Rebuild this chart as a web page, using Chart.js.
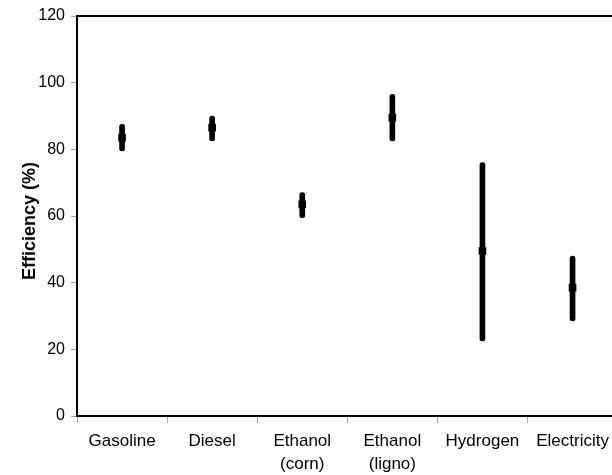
<!DOCTYPE html>
<html>
<head>
<meta charset="utf-8">
<script src="https://cdn.jsdelivr.net/npm/chart.js@4/dist/chart.umd.min.js"></script>
<style>
  html, body { margin: 0; padding: 0; background: #fff; overflow: hidden; }
  #wrap { width: 612px; height: 475px; overflow: hidden; position: relative; }
  canvas { display: block; }
</style>
</head>
<body>
<div id="wrap"><canvas id="c" width="623" height="475" style="width:623px;height:475px"></canvas></div>
<script>
const categories = [["Gasoline"], ["Diesel"], ["Ethanol", "(corn)"], ["Ethanol", "(ligno)"], ["Hydrogen"], ["Electricity"]];
const minValues  = [79.5, 82.5, 59.5, 82.5, 22.5, 28.5];
const maxValues  = [87.5, 90.0, 67.0, 96.5, 76.0, 48.0];
const meanValues = [83.5, 86.5, 63.5, 89.5, 49.5, 38.5];
const yTicks = [0, 20, 40, 60, 80, 100, 120];

const ranges = minValues.map((v, i) => [v, maxValues[i]]);
const FONT = "'Liberation Sans', Arial, sans-serif";

new Chart(document.getElementById('c'), {
  data: {
    labels: categories,
    datasets: [
      {
        type: 'bar',
        data: ranges,
        backgroundColor: '#000',
        borderWidth: 0,
        barThickness: 5,
        borderRadius: 2.5,
        borderSkipped: false,
        xAxisID: 'x',
        yAxisID: 'y',
        order: 2
      },
      {
        type: 'line',
        data: meanValues,
        showLine: false,
        pointStyle: 'rect',
        pointRadius: 5.4,
        pointBackgroundColor: '#000',
        pointBorderColor: '#000',
        pointBorderWidth: 0,
        xAxisID: 'x',
        yAxisID: 'y',
        order: 1
      }
    ]
  },
  options: {
    responsive: false,
    animation: false,
    events: [],
    layout: { padding: 0 },
    plugins: { legend: { display: false }, tooltip: { enabled: false } },
    scales: {
      x: {
        type: 'category',
        position: 'bottom',
        offset: true,
        grid: { offset: true, drawOnChartArea: false, drawTicks: true, tickLength: 7, color: '#a0a0a0', lineWidth: 1 },
        border: { display: true, color: '#000', width: 2 },
        ticks: { color: '#000', font: { family: FONT, size: 17, lineHeight: 1.33 }, padding: 7, maxRotation: 0, autoSkip: false },
        afterFit: s => { s.height = 59; }
      },
      x2: {
        type: 'category',
        position: 'top',
        labels: categories,
        grid: { display: true, drawOnChartArea: false, drawTicks: false },
        border: { display: true, color: '#000', width: 2 },
        ticks: { display: false },
        afterFit: s => { s.height = 16; }
      },
      y: {
        type: 'linear',
        position: 'left',
        min: 0,
        max: 120,
        afterBuildTicks: s => { s.ticks = yTicks.map(v => ({ value: v })); },
        grid: { drawOnChartArea: false, drawTicks: true, tickLength: 6, color: '#a0a0a0', lineWidth: 1 },
        border: { display: true, color: '#000', width: 2 },
        ticks: { color: '#000', font: { family: FONT, size: 16 }, padding: 6 },
        title: { display: true, text: 'Efficiency (%)\u00a0\u00a0', color: '#000', font: { family: FONT, size: 18, weight: 'bold' }, padding: { top: 19, bottom: 0 } },
        afterFit: s => { s.width = 77; }
      }
    }
  }
});
</script>
</body>
</html>
